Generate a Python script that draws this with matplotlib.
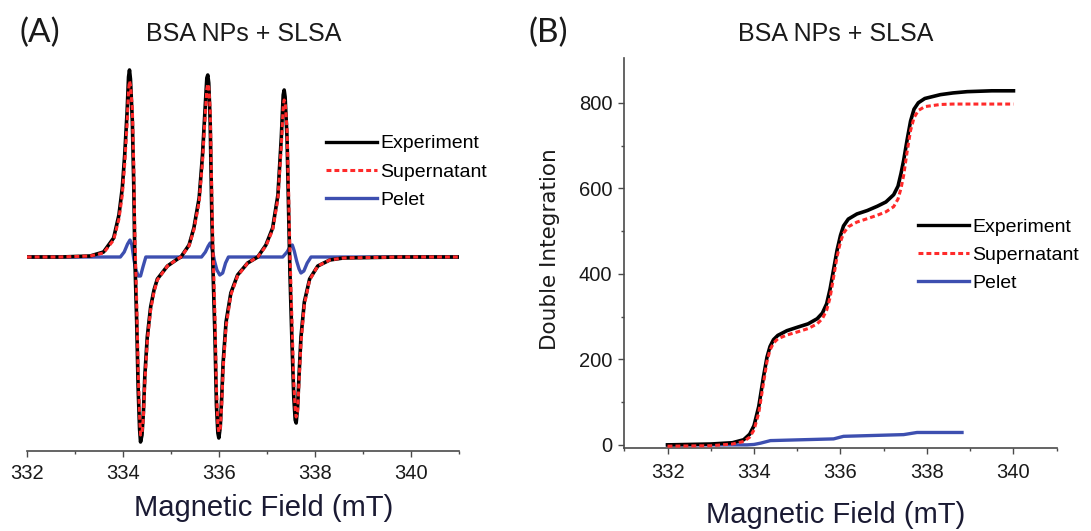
import matplotlib
matplotlib.use("Agg")
import matplotlib.pyplot as plt
from matplotlib.ticker import MultipleLocator

plt.rcParams['font.family'] = ['Liberation Sans', 'DejaVu Sans']

# ---- (A) EPR spectra, first derivative (arb. units) ----
field_a = [332.00, 332.70, 333.32, 333.60, 333.81, 333.92, 333.99, 334.04, 334.09, 334.12,
           334.14, 334.16, 334.20, 334.23, 334.25, 334.29, 334.32, 334.35, 334.37, 334.40,
           334.43, 334.46, 334.51, 334.58, 334.65, 334.72, 334.93, 335.14, 335.21, 335.38,
           335.48, 335.59, 335.66, 335.71, 335.75, 335.77, 335.79, 335.82, 335.85, 335.88,
           335.92, 335.95, 335.98, 336.00, 336.03, 336.06, 336.09, 336.15, 336.25, 336.39,
           336.60, 336.81, 336.98, 337.12, 337.23, 337.30, 337.34, 337.36, 337.38, 337.42,
           337.45, 337.48, 337.52, 337.56, 337.59, 337.61, 337.64, 337.67, 337.71, 337.78,
           337.89, 338.06, 338.31, 338.59, 339.80, 341.00]
experiment_a = [0, 0, 1, 5, 19, 42, 69, 102, 145, 180,
                187, 178, 135, 69, 2, -65, -131, -172, -185, -178,
                -155, -118, -80, -50, -33, -22, -9, -2, 0, 12,
                29, 59, 102, 145, 179, 182, 174, 135, 52, -15,
                -81, -148, -176, -181, -170, -140, -105, -65, -36, -18,
                -6, 0, 12, 29, 62, 119, 162, 167, 160, 119,
                52, -15, -81, -140, -163, -166, -150, -118, -80, -45,
                -22, -9, -3, -1, 0, 0]
supernatant_a = [0, 0, 1, 4, 17, 38, 62, 93, 133, 166,
                 176, 172, 148, 90, 25, -45, -112, -158, -178, -176,
                 -160, -125, -85, -53, -35, -23, -9, -2, 0, 11,
                 27, 55, 95, 136, 168, 173, 170, 148, 72, 5,
                 -60, -130, -168, -175, -172, -148, -112, -70, -38, -19,
                 -6, 0, 11, 27, 58, 110, 150, 157, 155, 128,
                 70, 5, -60, -125, -152, -160, -155, -125, -86, -48,
                 -23, -9, -3, -1, 0, 0]
pelet_field_a = [332.00, 333.95, 334.03, 334.10, 334.15, 334.19, 334.23, 334.27, 334.32, 334.37,
                 334.42, 334.48, 335.64, 335.72, 335.78, 335.82, 335.86, 335.91, 335.96, 336.02,
                 336.08, 336.14, 336.20, 337.33, 337.42, 337.48, 337.53, 337.57, 337.62, 337.67,
                 337.71, 337.77, 337.84, 337.92, 341.00]
pelet_a = [0, 0, 5, 13, 17, 12, -2, -12, -19, -19,
           -10, 0, 0, 5, 11, 14, 8, -4, -13, -18,
           -16, -6, 0, 0, 5, 10, 12, 6, -4, -12,
           -16, -14, -6, 0, 0]

# ---- (B) double integration ----
field_b = [332.00, 333.00, 333.50, 333.76, 333.90, 334.00, 334.11, 334.22, 334.30, 334.37,
           334.45, 334.55, 334.76, 335.00, 335.25, 335.46, 335.58, 335.68, 335.76, 335.84,
           335.92, 336.00, 336.07, 336.18, 336.38, 336.62, 336.85, 337.05, 337.23, 337.33,
           337.40, 337.46, 337.54, 337.62, 337.70, 337.80, 337.95, 338.31, 338.60, 338.93,
           339.50, 340.00]
experiment_b = [0, 2, 5, 12, 25, 45, 90, 160, 205, 230,
                246, 256, 267, 275, 283, 295, 308, 330, 365, 410,
                455, 490, 512, 528, 540, 548, 558, 568, 585, 605,
                635, 665, 713, 757, 785, 800, 810, 819, 823, 826,
                828, 828]
supernatant_b = [-3, -2, 2, 8, 18, 35, 75, 145, 195, 222,
                 238, 248, 257, 264, 272, 283, 295, 315, 345, 392,
                 440, 475, 495, 510, 521, 529, 537, 545, 557, 575,
                 600, 630, 685, 735, 765, 782, 791, 796, 797, 797,
                 797, 797]
pelet_field_b = [332.00, 333.84, 334.00, 334.15, 334.38, 335.84, 336.07, 337.46, 337.77, 338.81]
pelet_b = [0, 0, 1, 4, 10, 14, 20, 24, 29, 29]

BLACK = '#000000'
RED = '#ff2a2a'
BLUE = '#3d4fb0'
AXC = '#4a4a4a'
TXT = '#1a1a1a'
DASH = (0, (1.6, 1.0))

W, H = 1091, 531
fig = plt.figure(figsize=(W / 100, H / 100), dpi=100)


def fbox(x0, x1, ytop, ybot):
    # pixel box -> figure fraction
    return [x0 / W, 1 - ybot / H, (x1 - x0) / W, (ybot - ytop) / H]


def draw_lines(ax, fx, e, s, pfx, p):
    ax.plot(pfx, p, color=BLUE, lw=2.4, zorder=2)
    ax.plot(fx, e, color=BLACK, lw=2.6, zorder=3)
    ax.plot(fx, s, color=RED, lw=2.2, ls=DASH, zorder=4)
    h = [plt.Line2D([], [], color=BLACK, lw=2.4),
         plt.Line2D([], [], color=RED, lw=2.2, ls=DASH),
         plt.Line2D([], [], color=BLUE, lw=2.4)]
    return h


def style_ticks(ax):
    ax.tick_params(axis='both', which='major', direction='out', length=4.5, width=1,
                   color=AXC, labelsize=14.5, labelcolor=TXT)
    ax.tick_params(axis='both', which='minor', direction='out', length=2.5, width=1,
                   color=AXC)


# panel A
axA = fig.add_axes(fbox(26.7, 459, 55, 451))
hA = draw_lines(axA, field_a, experiment_a, supernatant_a, pelet_field_a, pelet_a)
axA.set_xlim(332, 341)
axA.set_ylim(-194, 202)
for s in ['top', 'right', 'left']:
    axA.spines[s].set_visible(False)
axA.spines['bottom'].set_color(AXC)
axA.spines['bottom'].set_linewidth(1.2)
axA.set_yticks([])
axA.xaxis.set_major_locator(MultipleLocator(2))
axA.xaxis.set_minor_locator(MultipleLocator(1))
style_ticks(axA)
axA.tick_params(axis='x', pad=5)
axA.set_xlabel('Magnetic Field (mT)', fontsize=21, color='#1a1a33')
axA.xaxis.label.set_va('center')
axA.xaxis.set_label_coords((264 - 26.7) / (459 - 26.7), (451 - 508.3) / 396)
axA.legend(hA, ['Experiment', 'Supernatant', 'Pelet'], loc='center left',
           bbox_to_anchor=((326 - 26.7) / 432.3, (451 - 172) / 396), frameon=False,
           fontsize=14, handlelength=2.6, handletextpad=0.2, labelspacing=0.55,
           borderpad=0, borderaxespad=0)

# panel B
axB = fig.add_axes(fbox(624.3, 1056.7, 58.3, 448.3))
hB = draw_lines(axB, field_b, experiment_b, supernatant_b, pelet_field_b, pelet_b)
axB.set_xlim(331, 341)
axB.set_ylim(-8, 904)
for s in ['top', 'right']:
    axB.spines[s].set_visible(False)
for s in ['bottom', 'left']:
    axB.spines[s].set_color(AXC)
    axB.spines[s].set_linewidth(1.2)
axB.set_xticks([332, 334, 336, 338, 340])
axB.xaxis.set_minor_locator(MultipleLocator(1))
axB.set_yticks([0, 200, 400, 600, 800])
axB.set_yticks([100, 300, 500, 700], minor=True)
style_ticks(axB)
axB.tick_params(axis='x', pad=6)
axB.tick_params(axis='y', pad=4)
axB.set_xlabel('Magnetic Field (mT)', fontsize=21, color='#1a1a33')
axB.xaxis.label.set_va('center')
axB.xaxis.set_label_coords((836 - 624.3) / 432.4, (448.3 - 515) / 390)
axB.set_ylabel('Double Integration', fontsize=15.5, color=TXT, family=['DejaVu Sans'])
axB.yaxis.label.set_va('center')
axB.yaxis.set_label_coords((550.5 - 624.3) / 432.4, (448.3 - 249) / 390)
axB.legend(hB, ['Experiment', 'Supernatant', 'Pelet'], loc='center left',
           bbox_to_anchor=((918 - 624.3) / 432.4, (448.3 - 255) / 390), frameon=False,
           fontsize=14, handlelength=2.6, handletextpad=0.2, labelspacing=0.55,
           borderpad=0, borderaxespad=0)

# titles and panel letters
fig.text(244 / W, 1 - 34 / H, 'BSA NPs + SLSA', ha='center', va='center', fontsize=18, color=TXT)
fig.text(836 / W, 1 - 34 / H, 'BSA NPs + SLSA', ha='center', va='center', fontsize=18, color=TXT)
fig.text(40 / W, 1 - 33 / H, '(A)', ha='center', va='center', fontsize=24, color=TXT,
         family=['Lato', 'DejaVu Sans'])
fig.text(548 / W, 1 - 33 / H, '(B)', ha='center', va='center', fontsize=24, color=TXT,
         family=['Lato', 'DejaVu Sans'])

fig.savefig('out.png', dpi=100)
